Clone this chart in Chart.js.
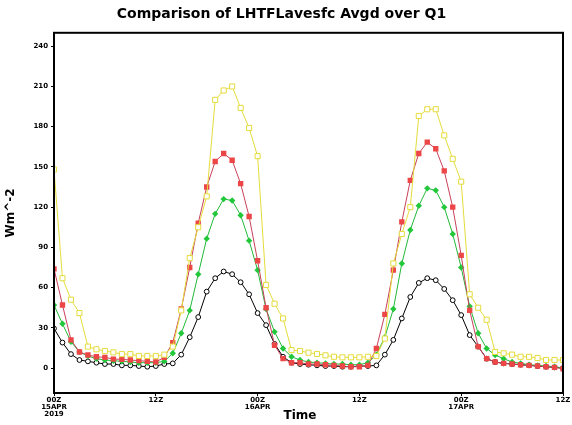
<!DOCTYPE html>
<html>
<head>
<meta charset="utf-8">
<script src="https://cdn.jsdelivr.net/npm/chart.js@4/dist/chart.umd.min.js"></script>
<style>
  html, body { margin: 0; padding: 0; background: #fff; }
  #wrap { width: 572px; height: 425px; }
</style>
</head>
<body>
<div id="wrap"><canvas id="chart"></canvas></div>
<script>
// hourly steps from 00Z 15APR2019 to 12Z 17APR
const hours = Array.from({ length: 61 }, (_, i) => i);

const xTickHours = [0, 12, 24, 36, 48, 60];
const xTickLabels = [['00Z', '15APR', '2019'], ['12Z'], ['00Z', '16APR'], ['12Z'], ['00Z', '17APR'], ['12Z']];
const yTicks = [0, 30, 60, 90, 120, 150, 180, 210, 240];

const yellowVals = [148, 67, 51, 41, 16, 14, 12.7, 11.7, 10.4, 10.4, 9, 9, 9, 10, 16, 43, 82, 105, 128, 200,
  207, 210, 194, 179, 158, 62, 48, 37, 13.4, 12.7, 11.5, 10.5, 9.5, 8.4, 8, 8, 8, 8.4, 9, 22,
  78, 100, 120, 188, 193, 193, 173.5, 156, 139, 55, 45, 36, 12, 11, 10, 8.4, 8.4, 7.5, 6, 6, 6];
const redVals = [74, 47, 21, 12, 9.7, 8.4, 8, 6.7, 6.5, 6, 5.5, 5, 4.5, 8, 19, 44, 75, 108, 135, 154,
  160, 155, 137.5, 113, 80, 45, 17, 7, 4, 4, 3, 3, 2.5, 2, 1.5, 1, 1, 2, 14.6, 40,
  73, 109, 140, 160, 168.5, 163.5, 147, 120, 84, 43, 16, 7, 4.5, 3.5, 3, 2.5, 2, 1.5, 1, 0.5, -0.5];
const greenVals = [47, 33, 19.6, 12, 9, 7, 6, 5.5, 5, 4.5, 4, 4, 4, 5, 11, 26, 43, 70, 96.5, 115,
  126, 125, 114, 95, 73, 44, 27, 14.6, 8.4, 6, 4.5, 4, 3.5, 3, 3, 2.5, 2.5, 4, 10, 23,
  44, 78, 103, 121, 134, 132.5, 120, 100, 75, 46, 26, 14.6, 9.7, 7, 4.5, 3.5, 2.5, 2, 1.5, 1, 0];
const blackVals = [29.5, 19, 10.4, 6, 5, 4, 3, 3, 2, 2, 1.5, 1, 1.5, 3, 3.5, 10, 23, 38, 57, 67,
  72, 70, 64, 55, 41, 32, 18, 8.4, 4, 3, 2.5, 2, 1.5, 1.5, 1, 1, 1.5, 1.5, 2, 10,
  21, 37, 53, 63.5, 67, 65.5, 59, 50.6, 39.5, 24.6, 16, 7, 4.5, 3.5, 3, 2.5, 2, 1.5, 1, 0.5, 0];

const toPoints = vals => hours.map((h, i) => ({ x: h, y: vals[i] }));

const boxAndTime = {
  id: 'boxAndTime',
  afterDraw(chart) {
    const { ctx, chartArea: a } = chart;
    ctx.save();
    ctx.strokeStyle = '#000';
    ctx.lineWidth = 2;
    ctx.strokeRect(a.left, a.top, a.right - a.left, a.bottom - a.top);
    ctx.fillStyle = '#000';
    ctx.font = 'bold 12px "DejaVu Sans"';
    ctx.textAlign = 'center';
    ctx.textBaseline = 'middle';
    ctx.fillText('Time', 300, 416);
    ctx.restore();
  }
};

new Chart(document.getElementById('chart'), {
  type: 'line',
  data: {
    datasets: [
      {
        data: toPoints(yellowVals), borderColor: '#e4dc3c', borderWidth: 1,
        pointStyle: 'rect', pointRadius: 3.6, pointBorderWidth: 1,
        pointBackgroundColor: '#fff', pointBorderColor: '#e4dc3c'
      },
      {
        data: toPoints(redVals), borderColor: '#c8405a', borderWidth: 1,
        pointStyle: 'rect', pointRadius: 3.8, pointBorderWidth: 0,
        pointBackgroundColor: '#ec4646', pointBorderColor: '#ec4646'
      },
      {
        data: toPoints(greenVals), borderColor: '#22b83a', borderWidth: 1,
        pointStyle: 'rectRot', pointRadius: 3.2, pointBorderWidth: 0,
        pointBackgroundColor: '#22c83a', pointBorderColor: '#22c83a'
      },
      {
        data: toPoints(blackVals), borderColor: '#000', borderWidth: 1,
        pointStyle: 'circle', pointRadius: 2.4, pointBorderWidth: 1,
        pointBackgroundColor: '#fff', pointBorderColor: '#000'
      }
    ]
  },
  options: {
    responsive: true,
    maintainAspectRatio: false,
    animation: false,
    layout: { padding: { left: 0, right: 9, top: 0, bottom: 0 } },
    plugins: {
      legend: { display: false },
      tooltip: { enabled: false },
      title: {
        display: true,
        text: 'Comparison of LHTFLavesfc Avgd over Q1',
        color: '#000',
        font: { family: 'DejaVu Sans', size: 14, weight: 'bold' },
        padding: { top: 6, bottom: 10 }
      }
    },
    scales: {
      x: {
        type: 'linear',
        min: 0,
        max: 60,
        afterBuildTicks: scale => { scale.ticks = xTickHours.map(v => ({ value: v })); },
        afterFit: scale => { scale.height = 32; },
        grid: { display: true, drawOnChartArea: false, tickLength: 3, color: '#000' },
        border: { display: false },
        ticks: {
          autoSkip: false,
          maxRotation: 0,
          padding: 1,
          color: '#000',
          font: { family: 'DejaVu Sans', size: 7, weight: 'bold', lineHeight: 1 },
          callback: v => xTickLabels[xTickHours.indexOf(v)]
        }
      },
      y: {
        min: -18.6,
        max: 250,
        afterBuildTicks: scale => { scale.ticks = yTicks.map(v => ({ value: v })); },
        afterFit: scale => { scale.width = 54; },
        grid: { display: true, drawOnChartArea: false, tickLength: 3, color: '#000' },
        border: { display: false },
        title: {
          display: true,
          text: 'Wm^-2',
          color: '#000',
          font: { family: 'DejaVu Sans', size: 12, weight: 'bold' },
          padding: { top: 4, bottom: 0 }
        },
        ticks: {
          padding: 3,
          color: '#000',
          font: { family: 'DejaVu Sans', size: 7, weight: 'bold' }
        }
      }
    }
  },
  plugins: [boxAndTime]
});
</script>
</body>
</html>
